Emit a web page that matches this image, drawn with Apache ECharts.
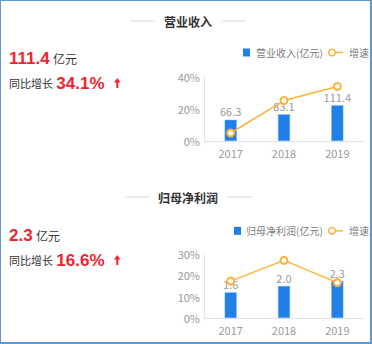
<!DOCTYPE html>
<html><head><meta charset="utf-8">
<script src="https://cdn.jsdelivr.net/npm/echarts@6/dist/echarts.min.js"></script>
<style>
html,body{margin:0;padding:0;background:#fff;}
#c{width:372px;height:344px;box-sizing:border-box;border:1px solid #5B9BD5;border-right-width:2px;border-bottom-width:2px;}
</style></head><body>
<div id="c"></div>
<script>
const categories = ['2017', '2018', '2019'];
const revenue = [66.3, 83.1, 111.4];
const revenueGrowth = [5.0, 25.3, 34.1];
const profit = [1.6, 2.0, 2.3];
const profitGrowth = [17.3, 27.0, 16.6];
const revenueLatest = '111.4';
const revenueYoY = '34.1%';
const profitLatest = '2.3';
const profitYoY = '16.6%';
const revenueName = '营业收入(亿元)';
const profitName = '归母净利润(亿元)';
const growthName = '增速';

const chart = echarts.init(document.getElementById('c'), null, {renderer: 'svg'});
const RED = '#F2232F', BLUE = '#2080E8', ORANGE = '#FFB23A', GRAY = '#9a9a9a';
const font = '"Noto Sans CJK SC", "Noto Sans", sans-serif';
const numFont = '"Liberation Sans", Arial, sans-serif';

function header(title, cy, l1, l2, r1, r2) {
  return [
    {type: 'text', x: 187, y: cy, style: {text: title, fill: '#333', font: 'bold 12px ' + font, textAlign: 'center', textVerticalAlign: 'middle'}},
    {type: 'line', shape: {x1: l1, y1: cy, x2: l2, y2: cy}, style: {stroke: '#d9d9d9', lineWidth: 1}},
    {type: 'line', shape: {x1: r1, y1: cy, x2: r2, y2: cy}, style: {stroke: '#d9d9d9', lineWidth: 1}}
  ];
}
function stats(val, yoy, y1, y2) {
  return [
    {type: 'text', x: 8, y: y1, style: {text: '{a|' + val + '} {b|亿元}', textVerticalAlign: 'middle',
      rich: {a: {fill: RED, font: 'bold 17px ' + numFont}, b: {fill: '#333', font: '12px ' + font}}}},
    {type: 'text', x: 8, y: y2, style: {text: '{b|同比增长} {a|' + yoy + '}', textVerticalAlign: 'middle',
      rich: {a: {fill: RED, font: 'bold 17px ' + numFont}, b: {fill: '#333', font: '11px ' + font}}}},
    {type: 'polygon', shape: {points: [[116.3, y2 - 5], [119.6, y2 - 0.5], [117.3, y2 - 0.5], [117.3, y2 + 5], [115.3, y2 + 5], [115.3, y2 - 0.5], [113, y2 - 0.5]]},
      style: {fill: RED}}
  ];
}
function legend(name, sqX, textX, cy) {
  return [
    {type: 'rect', shape: {x: sqX, y: cy - 4, width: 7, height: 8}, style: {fill: BLUE}},
    {type: 'text', x: textX, y: cy, style: {text: name, fill: '#808080', font: '10px ' + font, textVerticalAlign: 'middle'}},
    {type: 'line', shape: {x1: 334, y1: cy, x2: 342, y2: cy}, style: {stroke: ORANGE, lineWidth: 1.5}},
    {type: 'circle', shape: {cx: 331, cy: cy, r: 3.3}, style: {fill: '#fff', stroke: ORANGE, lineWidth: 1.5}},
    {type: 'text', x: 348, y: cy, style: {text: growthName, fill: '#808080', font: '10px ' + font, textVerticalAlign: 'middle'}}
  ];
}

const axisLabel = {color: GRAY, fontSize: 11, fontFamily: font};
const lineStyleAxis = {lineStyle: {color: '#e3e3e3'}};

chart.setOption({
  animation: false,
  textStyle: {fontFamily: font},
  graphic: [].concat(
    header('营业收入', 20, 129, 154, 220, 245),
    stats(revenueLatest, revenueYoY, 57.5, 82),
    legend(revenueName, 242, 255, 51.5),
    header('归母净利润', 196, 124, 149, 226, 251),
    stats(profitLatest, profitYoY, 234.5, 259),
    legend(profitName, 233, 245, 229.8)
  ),
  grid: [
    {left: 203, right: 6, top: 76, height: 64},
    {left: 203, right: 6, top: 253, height: 64}
  ],
  xAxis: [
    {type: 'category', gridIndex: 0, data: categories, axisTick: {show: false}, axisLine: lineStyleAxis, axisLabel: Object.assign({margin: 6}, axisLabel)},
    {type: 'category', gridIndex: 1, data: categories, axisTick: {show: false}, axisLine: lineStyleAxis, axisLabel: Object.assign({margin: 6}, axisLabel)}
  ],
  yAxis: [
    {type: 'value', gridIndex: 0, min: 0, max: 40, interval: 20, axisLine: Object.assign({show: true}, lineStyleAxis), splitLine: {show: false},
      axisLabel: Object.assign({formatter: '{value}%', margin: 4}, axisLabel)},
    {type: 'value', gridIndex: 0, min: 0, max: 200, show: false, splitLine: {show: false}},
    {type: 'value', gridIndex: 1, min: 0, max: 30, interval: 10, axisLine: Object.assign({show: true}, lineStyleAxis), splitLine: {show: false},
      axisLabel: Object.assign({formatter: '{value}%', margin: 4}, axisLabel)},
    {type: 'value', gridIndex: 1, min: 0, max: 4, show: false, splitLine: {show: false}}
  ],
  series: [
    {name: revenueName, type: 'bar', xAxisIndex: 0, yAxisIndex: 1, data: revenue, barWidth: 12,
      itemStyle: {color: BLUE, borderColor: '#6aa9f0', borderWidth: 0.5},
      label: {show: true, position: 'top', color: GRAY, fontSize: 11, distance: 3}},
    {name: growthName, type: 'line', xAxisIndex: 0, yAxisIndex: 0, data: revenueGrowth, symbol: 'emptyCircle', symbolSize: 7,
      lineStyle: {color: ORANGE, width: 1.5}, itemStyle: {color: ORANGE, borderWidth: 1.5}},
    {name: profitName, type: 'bar', xAxisIndex: 1, yAxisIndex: 3, data: profit, barWidth: 12,
      itemStyle: {color: BLUE, borderColor: '#6aa9f0', borderWidth: 0.5},
      label: {show: true, position: 'top', color: GRAY, fontSize: 11, distance: 3, formatter: p => p.value.toFixed(1)}},
    {name: growthName, type: 'line', xAxisIndex: 1, yAxisIndex: 2, data: profitGrowth, symbol: 'emptyCircle', symbolSize: 7,
      lineStyle: {color: ORANGE, width: 1.5}, itemStyle: {color: ORANGE, borderWidth: 1.5}}
  ]
});
</script>
</body></html>
